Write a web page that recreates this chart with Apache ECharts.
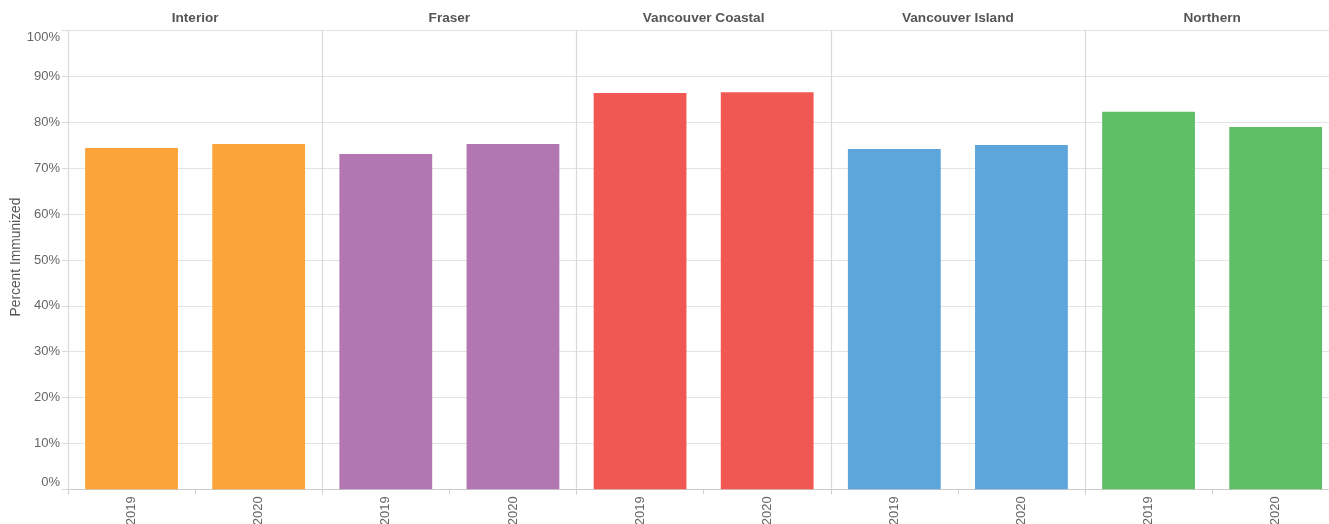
<!DOCTYPE html>
<html>
<head>
<meta charset="utf-8">
<style>
  html, body { margin: 0; padding: 0; background: #fff; overflow: hidden; }
  #chart { width: 1329px; height: 524px; }
</style>
<script src="https://cdn.jsdelivr.net/npm/echarts@6.0.0/dist/echarts.min.js"></script>
</head>
<body>
<div id="chart"></div>
<script>
// data
var regions = ["Interior", "Fraser", "Vancouver Coastal", "Vancouver Island", "Northern"];
var years = ["2019", "2020"];
var interior = [74.4, 75.3];
var fraser = [73.1, 75.3];
var vanCoastal = [86.4, 86.6];
var vanIsland = [74.2, 75.1];
var northern = [82.3, 79.0];
var regionColors = ["#FAA43A", "#B276B2", "#F15854", "#5DA5DA", "#60BD68"];
var yTicks = [0, 10, 20, 30, 40, 50, 60, 70, 80, 90, 100];

var values = [interior, fraser, vanCoastal, vanIsland, northern];

var FONT = "'Liberation Sans', Arial, sans-serif";
var plotLeft = 68;
var panelW = 254.25;

var chart = echarts.init(document.getElementById("chart"));

var grids = [], xAxes = [], yAxes = [], series = [], titles = [];

regions.forEach(function (name, i) {
  var left = plotLeft + panelW * i;
  // last facet runs past the right edge, labels run past the bottom: don't shrink to fit
  grids.push({
    left: left, width: panelW, top: 30.7, height: 458.6,
    containLabel: false, outerBoundsMode: "none"
  });

  titles.push({
    text: name,
    left: left + panelW / 2,
    top: 11,
    padding: 0,
    textAlign: "center",
    textStyle: { fontFamily: FONT, fontSize: 13.6, fontWeight: "bold", color: "#555" }
  });

  xAxes.push({
    type: "category",
    gridIndex: i,
    data: years,
    axisLine: { show: true, lineStyle: { color: "#c8c8c8", type: "dotted", width: 1 } },
    axisTick: { show: true, length: 5, lineStyle: { color: "#d0d0d0" } },
    axisLabel: { rotate: 90, margin: 7, fontFamily: FONT, fontSize: 13, color: "#666" },
    splitLine: { show: false }
  });

  // main y axis: gridlines + divider line
  yAxes.push({
    type: "value",
    gridIndex: i,
    position: "left",
    min: 0, max: 100, interval: 10,
    name: i === 0 ? "Percent Immunized" : "",
    nameLocation: "middle",
    nameGap: 45,
    nameTextStyle: { fontFamily: FONT, fontSize: 13.8, color: "#555", padding: [0, 0, 0, 6] },
    axisLine: { show: true, lineStyle: { color: "#d9d9d9", width: 1.2 } },
    axisTick: { show: i === 0, length: 6, lineStyle: { color: "#d9d9d9" } },
    axisLabel: {
      show: i === 0,
      margin: 8,
      fontFamily: FONT, fontSize: 13, color: "#666",
      formatter: function (v) { return (v === 0 || v === 100) ? "" : v + "%"; }
    },
    splitLine: { show: true, lineStyle: { color: "#e3e3e3", width: 1.2 } }
  });

  series.push({
    type: "bar",
    xAxisIndex: i,
    yAxisIndex: i,
    data: values[i],
    barCategoryGap: "27%",
    itemStyle: { color: regionColors[i] },
    silent: true
  });
});

// flush end labels on the first panel (0% sits above its line, 100% below)
yAxes.push({
  type: "value", gridIndex: 0, position: "left", offset: 0, min: 0, max: 100, interval: 10,
  axisLine: { show: false }, axisTick: { show: false }, splitLine: { show: false },
  axisLabel: {
    margin: 8, verticalAlign: "bottom", fontFamily: FONT, fontSize: 13, color: "#666",
    formatter: function (v) { return v === yTicks[0] ? v + "%" : ""; }
  }
});
yAxes.push({
  type: "value", gridIndex: 0, position: "left", offset: 0, min: 0, max: 100, interval: 10,
  axisLine: { show: false }, axisTick: { show: false }, splitLine: { show: false },
  axisLabel: {
    margin: 8, verticalAlign: "top", fontFamily: FONT, fontSize: 13, color: "#666",
    formatter: function (v) { return v === yTicks[yTicks.length - 1] ? v + "%" : ""; }
  }
});

chart.setOption({
  animation: false,
  title: titles,
  grid: grids,
  xAxis: xAxes,
  yAxis: yAxes,
  series: series
});
</script>
</body>
</html>
